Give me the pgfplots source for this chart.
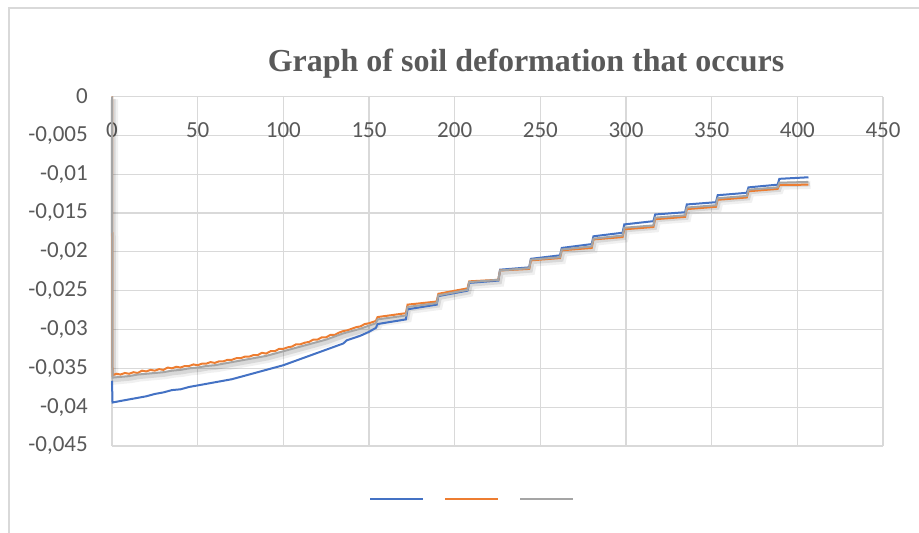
\documentclass[border=0pt]{standalone}
\usepackage{fontspec}
\setmainfont{Carlito}
\newfontfamily\titlefont{Liberation Serif}
\usepackage{pgfplots}
\usepackage{pgfplotstable}
\pgfplotsset{compat=1.18}
\definecolor{exblue}{HTML}{4472C4}
\definecolor{exorange}{HTML}{ED7D31}
\definecolor{exgray}{HTML}{A5A5A5}
\definecolor{gridc}{HTML}{D9D9D9}
\definecolor{txt}{HTML}{595959}

\pgfplotstableread{
x y
0 -0.0366
0.3 -0.0394
5 -0.0392
10 -0.0390
15 -0.0388
20 -0.0386
25 -0.0383
30 -0.0381
35 -0.0378
40 -0.0377
45 -0.0374
50 -0.0372
55 -0.0370
60 -0.0368
65 -0.0366
70 -0.0364
75 -0.0361
80 -0.0358
85 -0.0355
90 -0.0352
95 -0.0349
100 -0.0346
105 -0.0342
110 -0.0338
115 -0.0334
120 -0.0330
125 -0.0326
130 -0.0322
135 -0.0318
137 -0.0314
145 -0.0308
150 -0.0303
154 -0.0298
155 -0.0293
171.5 -0.0287
172.5 -0.0274
189.5 -0.0268
190.5 -0.0257
207.5 -0.0250
208.5 -0.0240
225.5 -0.0237
226.5 -0.0223
243.5 -0.0220
244.5 -0.0209
261.5 -0.02045
262.5 -0.0195
280 -0.0190
281 -0.0180
298 -0.01754
299 -0.01647
316 -0.01605
317 -0.01519
334.5 -0.0149
335.5 -0.0139
352.5 -0.01361
353.5 -0.01271
370.5 -0.0124
371.5 -0.0117
388.5 -0.01135
389.5 -0.0106
406.5 -0.0104
}\bluet

\pgfplotstableread{
x y
0 0
0.3 -0.0359
2.5 -0.0357
5 -0.0358
7.5 -0.0356
10 -0.0357
12.5 -0.0355
15 -0.0356
17.5 -0.0353
20 -0.0354
22.5 -0.0352
25 -0.0353
27.5 -0.0351
30 -0.0352
32.5 -0.0349
35 -0.0350
37.5 -0.0348
40 -0.0349
42.5 -0.0347
45 -0.0347
47.5 -0.0345
50 -0.0346
52.5 -0.0344
55 -0.0344
57.5 -0.0342
60 -0.0343
62.5 -0.0341
65 -0.0341
67.5 -0.0339
70 -0.0339
72.5 -0.0337
75 -0.0337
77.5 -0.0335
80 -0.0335
82.5 -0.0333
85 -0.0333
87.5 -0.0330
90 -0.0331
92.5 -0.0328
95 -0.0328
97.5 -0.0325
100 -0.0325
102.5 -0.0323
105 -0.0322
107.5 -0.0319
110 -0.0319
112.5 -0.0317
115 -0.0316
117.5 -0.0313
120 -0.0313
122.5 -0.0310
125 -0.0310
127.5 -0.0307
130 -0.0307
132.5 -0.0304
135 -0.0302
137.5 -0.0301
140 -0.0299
142.5 -0.0297
145 -0.0296
147.5 -0.0293
150 -0.0292
154 -0.0289
155 -0.0284
171.5 -0.0279
172.5 -0.0268
189.5 -0.0264
190.5 -0.0254
207.5 -0.0247
208.5 -0.0238
225.5 -0.0236
226.5 -0.0224
243.5 -0.0222
244.5 -0.0211
261.5 -0.0208
262.5 -0.0198
280 -0.0195
281 -0.0184
298 -0.0181
299 -0.0171
316 -0.0168
317 -0.0158
334.5 -0.0155
335.5 -0.0145
352.5 -0.0142
353.5 -0.0133
370.5 -0.0130
371.5 -0.0122
388.5 -0.0119
389.5 -0.0114
406.5 -0.01135
}\oranget

\pgfplotstableread{
x y
0 0
0.3 -0.0362
5 -0.0361
10 -0.0360
15 -0.0358
20 -0.0357
25 -0.0356
30 -0.0355
35 -0.0353
40 -0.0352
45 -0.0350
50 -0.0349
55 -0.0347
60 -0.0346
65 -0.0344
70 -0.0342
75 -0.0340
80 -0.0338
85 -0.0336
90 -0.0334
95 -0.0331
100 -0.0328
105 -0.0325
110 -0.0322
115 -0.0319
120 -0.0316
125 -0.0313
130 -0.0309
135 -0.0305
140 -0.0302
145 -0.0299
150 -0.0295
154 -0.0292
155 -0.0287
171.5 -0.0282
172.5 -0.0271
189.5 -0.0266
190.5 -0.0256
207.5 -0.0249
208.5 -0.0239
225.5 -0.0236
226.5 -0.0224
243.5 -0.0221
244.5 -0.0210
261.5 -0.0207
262.5 -0.0197
280 -0.0193
281 -0.0183
298 -0.0179
299 -0.0169
316 -0.0166
317 -0.0156
334.5 -0.0153
335.5 -0.0143
352.5 -0.0140
353.5 -0.0131
370.5 -0.0128
371.5 -0.0120
388.5 -0.0117
389.5 -0.0111
406.5 -0.0110
}\grayt

\begin{document}
\begin{tikzpicture}[x=1pt,y=1pt]
\useasboundingbox (0,0) rectangle (919,533);
\draw[gridc, line width=1.3pt] (9,0) -- (9,525) -- (919,525);
\node[anchor=base, text=txt, font=\titlefont\bfseries\fontsize{32}{36}\selectfont, inner sep=0pt] at (526,461) {Graph of soil deformation that occurs};
\begin{axis}[
  at={(112pt,87pt)}, anchor=south west,
  scale only axis, width=771pt, height=349.5pt,
  xmin=0, xmax=450, ymin=-0.045, ymax=0,
  xtick={0,50,100,150,200,250,300,350,400,450},
  ytick={-0.045,-0.04,-0.035,-0.03,-0.025,-0.02,-0.015,-0.01,-0.005,0},
  grid=major, major grid style={gridc, line width=1.3pt},
  axis line style={draw=none}, tick style={draw=none},
  scaled x ticks=false, scaled y ticks=false,
  /pgf/number format/assume math mode=true,
  y tick label style={/pgf/number format/fixed, /pgf/number format/precision=3, /pgf/number format/use comma},
  tick label style={font=\fontsize{23}{23}\selectfont, text=txt, inner sep=0pt},
  yticklabel style={anchor=east, xshift=-24pt},
  xticklabel pos=upper,
  xticklabel style={anchor=north, yshift=-25.5pt},
  clip=false,
  legend columns=3,
  legend style={draw=none, fill=none, at={(0.467,-0.1516)}, anchor=center, nodes={inner sep=0pt},
    /tikz/every even column/.append style={column sep=19pt}},
  legend image code/.code={\draw[#1] (0pt,0pt) -- (53pt,0pt);},
]
\addlegendimage{exblue, line width=2pt}\addlegendentry{}
\addlegendimage{exorange, line width=2pt}\addlegendentry{}
\addlegendimage{exgray, line width=2pt}\addlegendentry{}
\addplot[black, opacity=0.06, line width=8pt, shift={(2pt,-3pt)}, forget plot] table {\grayt};
\addplot[black, opacity=0.10, line width=4pt, shift={(1.5pt,-2.5pt)}, forget plot] table {\grayt};
\addplot[exblue, line width=2pt, forget plot] table {\bluet};
\addplot[exorange, line width=2pt, forget plot] table {\oranget};
\addplot[exgray, line width=2pt, forget plot] table {\grayt};
\end{axis}
\end{tikzpicture}
\end{document}
